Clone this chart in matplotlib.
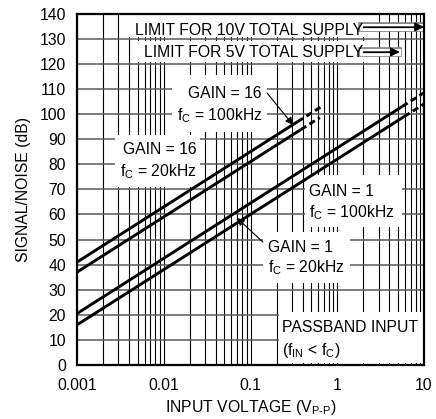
import matplotlib
matplotlib.use("Agg")
import matplotlib.pyplot as plt
from matplotlib.patches import Rectangle
import matplotlib.patheffects as pe
import numpy as np

plt.rcParams['font.family'] = ['Liberation Sans', 'DejaVu Sans']
plt.rcParams['mathtext.fontset'] = 'custom'
plt.rcParams['mathtext.rm'] = 'Liberation Sans'
plt.rcParams['mathtext.it'] = 'Liberation Sans'
plt.rcParams['mathtext.bf'] = 'Liberation Sans:bold'

FS = 11.3

# ---- data (input voltage Vp-p, signal/noise dB) ----
g16_100k_x = [0.001, 0.35, 0.66]
g16_100k_y = [41.0, 97.0, 103.0]
g16_20k_x = [0.001, 0.38, 0.63]
g16_20k_y = [37.0, 93.8, 98.6]
g1_100k_x = [0.001, 5.6, 10.0]
g1_100k_y = [20.5, 103.0, 108.5]
g1_20k_x = [0.001, 5.9, 10.0]
g1_20k_y = [16.0, 99.0, 104.0]

x_ticks = [0.001, 0.01, 0.1, 1, 10]
x_tick_labels = ['0.001', '0.01', '0.1', '1', '10']
y_ticks = list(range(0, 141, 10))

fig = plt.figure(figsize=(4.36, 4.19), dpi=100)
ax = fig.add_axes([77/436, 1-365/419, 347/436, 351.3/419])
ax.set_xscale('log')
ax.set_xlim(0.001, 10)
ax.set_ylim(0, 140)

# grid
for dec in [0.001, 0.01, 0.1, 1]:
    for m in range(1, 10):
        v = dec * m
        if v > 0.001:
            ax.axvline(v, color='black', lw=0.8, zorder=0.5)
for yv in y_ticks[1:-1]:
    ax.axhline(yv, color='#5a5a5a', lw=1.1, zorder=0.6)

# white label boxes
def box(x0, x1, y0, y1):
    ax.add_patch(Rectangle((x0, y0), x1 - x0, y1 - y0, facecolor='white',
                           edgecolor='none', zorder=1))

box(0.00377, 2.2, 130.8, 140)
box(0.00467, 2.2, 120.8, 129.2)
box(0.01245, 0.155, 92.9, 115.6)
box(0.00274, 0.0262, 70.9, 91.7)
box(0.425, 5.57, 55.0, 75.7)
box(0.139, 1.40, 32.7, 53.0)
box(0.213, 10, 0.8, 21.1)

# curves
LW = 2.1
dash = (0, (2.2, 1.3))
for xs, ys in [(g16_100k_x, g16_100k_y), (g16_20k_x, g16_20k_y),
               (g1_100k_x, g1_100k_y), (g1_20k_x, g1_20k_y)]:
    ax.plot(xs[:2], ys[:2], color='black', lw=LW, solid_capstyle='butt', zorder=3)
    ax.plot(xs[1:], ys[1:], color='black', lw=LW, linestyle=dash,
            dash_capstyle='butt', zorder=3)

# texts
def t(x, y, s, ha):
    ax.text(x, y, s, ha=ha, va='baseline', fontsize=FS, zorder=4)

t(1.98, 131.6, 'LIMIT FOR 10V TOTAL SUPPLY', 'right')
t(1.98, 122.6, 'LIMIT FOR 5V TOTAL SUPPLY', 'right')
t(0.136, 106.4, 'GAIN = 16', 'right')
t(0.136, 97.6, r'f$_\mathrm{C}$ = 100kHz', 'right')
t(0.02415, 84.1, 'GAIN = 16', 'right')
t(0.02415, 75.3, r'f$_\mathrm{C}$ = 20kHz', 'right')
t(0.472, 67.4, 'GAIN = 1', 'left')
t(0.472, 58.9, r'f$_\mathrm{C}$ = 100kHz', 'left')
t(0.159, 45.2, 'GAIN = 1', 'left')
t(0.159, 36.8, r'f$_\mathrm{C}$ = 20kHz', 'left')
t(0.2307, 13.0, 'PASSBAND INPUT', 'left')
t(0.2307, 4.0, r'(f$_\mathrm{IN}$ < f$_\mathrm{C}$)', 'left')

# arrows
halo = [pe.Stroke(linewidth=7, foreground='#8a8a8a'),
        pe.Stroke(linewidth=5, foreground='white'), pe.Normal()]
for (x0, x1, yy) in [(2.0, 10.0, 134.7), (2.0, 5.25, 124.75)]:
    ax.annotate('', xy=(x1, yy), xytext=(x0, yy), zorder=4,
                arrowprops=dict(arrowstyle='-|>', lw=0.9, color='black',
                                mutation_scale=14, shrinkA=0, shrinkB=0))
    ax.plot([x0, x1 * 0.93], [yy, yy], color='black', lw=0.9, zorder=3.5,
            path_effects=halo)

for (xa, ya, xb, yb) in [(0.155, 108.4, 0.309, 95.7), (0.139, 49.0, 0.0698, 58.6)]:
    ax.annotate('', xy=(xb, yb), xytext=(xa, ya), zorder=4,
                arrowprops=dict(arrowstyle='-|>', lw=0.8, color='black',
                                mutation_scale=11, shrinkA=0, shrinkB=0))

ax.set_xticks(x_ticks)
ax.set_xticklabels(x_tick_labels)
ax.xaxis.set_minor_locator(matplotlib.ticker.NullLocator())
ax.set_yticks(y_ticks)
ax.tick_params(axis='both', length=0, labelsize=FS)
ax.tick_params(axis='y', pad=8)
ax.tick_params(axis='x', pad=9)
for sp in ax.spines.values():
    sp.set_linewidth(1.6)
    sp.set_color('black')
    sp.set_zorder(5)

ax.set_ylabel('SIGNAL/NOISE (dB)', fontsize=FS, labelpad=6)
ax.set_xlabel(r'INPUT VOLTAGE (V$_\mathrm{P\text{-}P}$)', fontsize=FS, labelpad=4)

fig.savefig('out.png', dpi=100)
